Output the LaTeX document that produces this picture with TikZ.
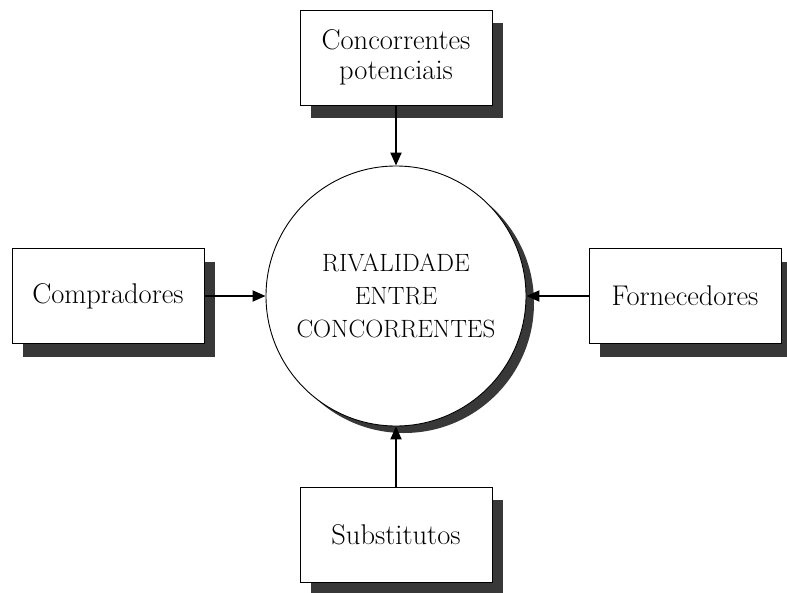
\documentclass[tikz,border=0pt]{standalone}
\usetikzlibrary{shadows,arrows.meta}
\begin{document}
\begin{tikzpicture}[x=1pt,y=-1pt,
  forcebox/.style={draw=black, line width=0.9pt, fill=white, rectangle,
    minimum width=192pt, minimum height=95pt, inner sep=0pt, align=center,
    font=\fontsize{28.5}{30}\selectfont,
    drop shadow={shadow xshift=11pt, shadow yshift=-13pt, fill=black!78, opacity=1}},
  centrecircle/.style={draw=black, line width=0.9pt, fill=white, circle,
    minimum size=260pt, inner sep=0pt, align=center,
    font=\fontsize{25}{33}\selectfont,
    drop shadow={shadow xshift=8pt, shadow yshift=-7pt, fill=black!78, opacity=1}},
  forcearrow/.style={line width=2pt, -{Triangle[length=13pt,width=11pt]}}]
\useasboundingbox (0,0) rectangle (787,592);
\node[forcebox] (pot) at (396,57.5) {Concorrentes\\potenciais};
\node[forcebox] (comp) at (108,296) {Compradores};
\node[forcebox] (forn) at (685,296) {Fornecedores};
\node[forcebox] (subs) at (396,534.5) {Substitutos};
\node[centrecircle] (riv) at (396,296) {RIVALIDADE\\ENTRE\\CONCORRENTES};
\draw[forcearrow] (pot.south) -- (riv.north);
\draw[forcearrow] (comp.east) -- (riv.west);
\draw[forcearrow] (forn.west) -- (riv.east);
\draw[forcearrow] (subs.north) -- (riv.south);
\end{tikzpicture}
\end{document}
